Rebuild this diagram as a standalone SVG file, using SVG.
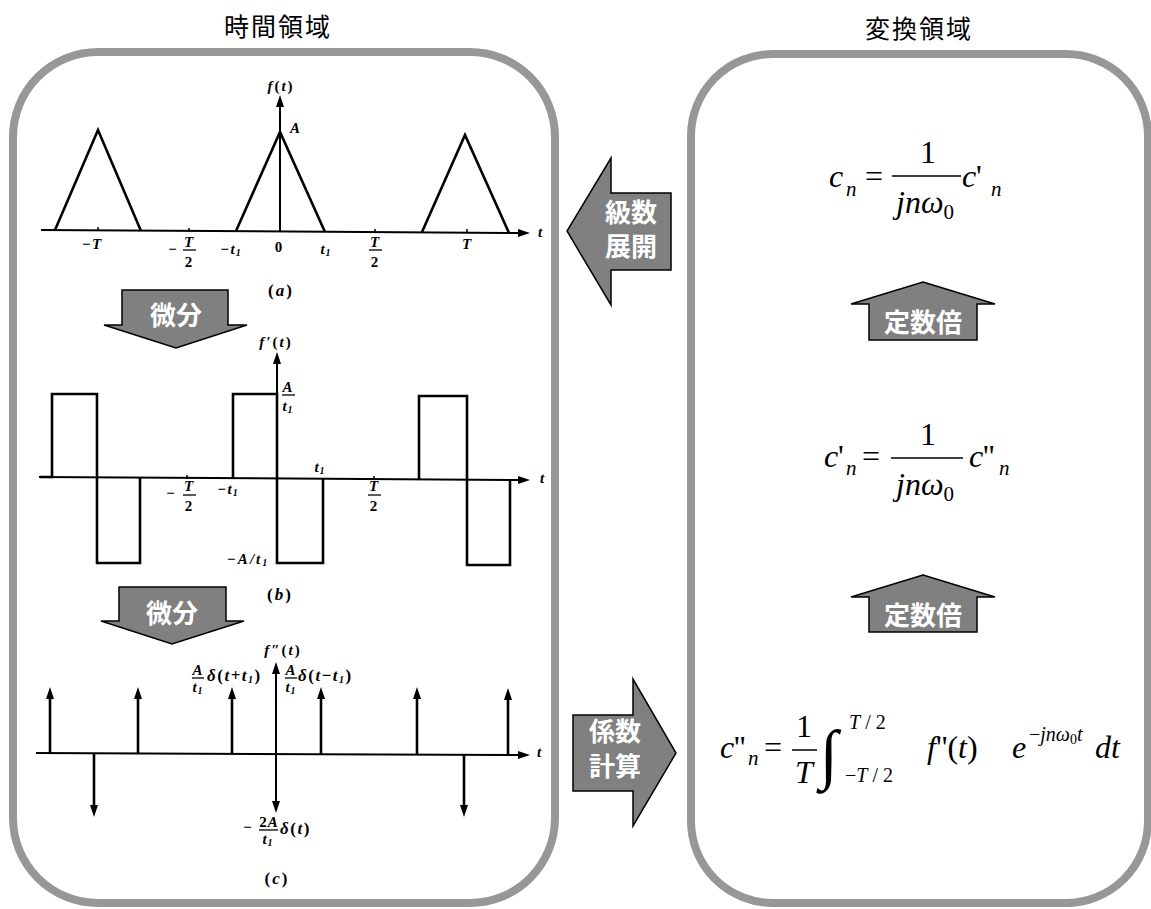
<svg xmlns="http://www.w3.org/2000/svg" width="1151" height="909" viewBox="0 0 1151 909">
<defs>
<style>
.title{font-family:"Noto Sans CJK JP","Noto Sans CJK SC",sans-serif;font-size:25px;fill:#000;text-anchor:middle;letter-spacing:2px}
.box{fill:#fff;stroke:#979797;stroke-width:8}
.blk{fill:#808080;stroke:#000;stroke-width:1.5;stroke-linejoin:miter}
.blab{font-family:"Noto Sans CJK JP","Noto Sans CJK SC",sans-serif;font-weight:bold;font-size:26px;fill:#fff;text-anchor:middle}
.ax{stroke:#000;stroke-width:2;fill:none}
.wv{stroke:#000;stroke-width:2.6;fill:none;stroke-linejoin:miter}
.imp{stroke:#000;stroke-width:2.6;fill:none}
.tk{stroke:#000;stroke-width:1.5}
.fr{stroke:#000;stroke-width:1.3}
.g{font-family:"Liberation Serif",serif;font-weight:bold;font-style:italic;font-size:15px;letter-spacing:1px;fill:#000}
.gu{font-style:normal}
.gs{font-size:10px}
.gd{font-size:17px;letter-spacing:1.5px}
.cap{font-size:17px;letter-spacing:2px;font-style:normal}
.m{font-family:"Liberation Serif","Times New Roman",serif;font-size:32px;fill:#000}
.i{font-style:italic}
.s{font-size:21px}
.lim{font-size:20px}
.ex{font-size:14px}
.big{font-size:66px}
.fl{stroke:#000;stroke-width:1.5}
</style>
<marker id="ah" viewBox="0 0 12 8" refX="2" refY="4" markerWidth="12" markerHeight="8" markerUnits="userSpaceOnUse" orient="auto-start-reverse"><path d="M0,0 L12,4 L0,8 z" fill="#000"/></marker>
</defs>
<rect width="1151" height="909" fill="#fff"/>

<g id="title-time"><text class="title" x="278" y="36">時間領域</text></g>
<g id="title-transform"><text class="title" x="919" y="38">変換領域</text></g>

<g id="box-time"><rect class="box" x="13" y="52" width="542" height="851" rx="85" ry="85"/></g>
<g id="box-transform"><rect class="box" x="691" y="54" width="457" height="849" rx="82" ry="82"/></g>

<g id="graph-a">
<line class="ax" x1="41" y1="230" x2="520" y2="233" marker-end="url(#ah)"/>
<line class="ax" x1="280" y1="232" x2="280" y2="105" marker-end="url(#ah)"/>
<polyline class="wv" points="55,230 98,130 141,231"/>
<polyline class="wv" points="236,231 280,132 325,232"/>
<polyline class="wv" points="422,232 465,135 509,233"/>
<line class="tk" x1="98" y1="227" x2="98" y2="231"/>
<line class="tk" x1="189" y1="228" x2="189" y2="232"/>
<line class="tk" x1="375" y1="229" x2="375" y2="233"/>
<line class="tk" x1="467" y1="229" x2="467" y2="233"/>
<text class="g" x="281" y="91" text-anchor="middle" style="letter-spacing:2px">f<tspan class="gu">(</tspan>t<tspan class="gu">)</tspan></text>
<text class="g" x="290" y="133">A</text>
<text class="g" x="92" y="249" text-anchor="middle">−T</text>
<text class="g" x="173" y="254" text-anchor="middle">−</text>
<text class="g" x="189" y="247" text-anchor="middle">T</text>
<line class="fr" x1="183" y1="250" x2="196" y2="250"/>
<text class="g gu" x="189" y="267" text-anchor="middle">2</text>
<text class="g" x="231" y="254" text-anchor="middle">−t<tspan class="gs" dy="2">1</tspan></text>
<text class="g gu" x="279" y="252" text-anchor="middle">0</text>
<text class="g" x="326" y="254" text-anchor="middle">t<tspan class="gs" dy="2">1</tspan></text>
<text class="g" x="375" y="247" text-anchor="middle">T</text>
<line class="fr" x1="369" y1="250" x2="382" y2="250"/>
<text class="g gu" x="375" y="267" text-anchor="middle">2</text>
<text class="g" x="467" y="249" text-anchor="middle">T</text>
<text class="g" x="538" y="237">t</text>
<text class="g cap" x="281" y="296" text-anchor="middle">(<tspan class="i">a</tspan>)</text>
</g>

<g id="graph-b">
<line class="ax" x1="39" y1="477" x2="520" y2="480" marker-end="url(#ah)"/>
<line class="ax" x1="277" y1="479" x2="277" y2="362" marker-end="url(#ah)"/>
<path class="wv" d="M40,477 H52 V394 H97 V563 H140 V478"/>
<path class="wv" d="M233,478 V394 H277 V563 H323 V479"/>
<path class="wv" d="M419,479 V396 H467 V565 H510 V480"/>
<line class="tk" x1="187" y1="475" x2="187" y2="479"/>
<line class="tk" x1="374" y1="476" x2="374" y2="480"/>
<text class="g" x="276" y="347" text-anchor="middle" style="letter-spacing:2px">f′<tspan class="gu">(</tspan>t<tspan class="gu">)</tspan></text>
<text class="g" x="288" y="392" text-anchor="middle">A</text>
<line class="fr" x1="282" y1="395" x2="295" y2="395"/>
<text class="g" x="288" y="411" text-anchor="middle">t<tspan class="gs" dy="2">1</tspan></text>
<text class="g" x="171" y="498" text-anchor="middle">−</text>
<text class="g" x="189" y="491" text-anchor="middle">T</text>
<line class="fr" x1="183" y1="495" x2="196" y2="495"/>
<text class="g gu" x="189" y="511" text-anchor="middle">2</text>
<text class="g" x="228" y="494" text-anchor="middle">−t<tspan class="gs" dy="2">1</tspan></text>
<text class="g" x="320" y="472" text-anchor="middle">t<tspan class="gs" dy="2">1</tspan></text>
<text class="g" x="374" y="491" text-anchor="middle">T</text>
<line class="fr" x1="368" y1="495" x2="381" y2="495"/>
<text class="g gu" x="374" y="511" text-anchor="middle">2</text>
<text class="g" x="248" y="564" text-anchor="middle" style="letter-spacing:2px">−A/t<tspan class="gs" dy="2">1</tspan></text>
<text class="g" x="540" y="483">t</text>
<text class="g cap" x="280" y="600" text-anchor="middle">(<tspan class="i">b</tspan>)</text>
</g>

<g id="graph-c">
<line class="ax" x1="36" y1="753" x2="520" y2="755" marker-end="url(#ah)"/>
<line class="ax" x1="276" y1="672" x2="276" y2="803" marker-start="url(#ah)" marker-end="url(#ah)"/>
<line class="imp" x1="50" y1="753" x2="50" y2="697" marker-end="url(#ah)"/>
<line class="imp" x1="138" y1="753" x2="138" y2="697" marker-end="url(#ah)"/>
<line class="imp" x1="232" y1="753" x2="232" y2="697" marker-end="url(#ah)"/>
<line class="imp" x1="321" y1="754" x2="321" y2="697" marker-end="url(#ah)"/>
<line class="imp" x1="417" y1="754" x2="417" y2="697" marker-end="url(#ah)"/>
<line class="imp" x1="508" y1="755" x2="508" y2="698" marker-end="url(#ah)"/>
<line class="imp" x1="94" y1="753" x2="94" y2="807" marker-end="url(#ah)"/>
<line class="imp" x1="464" y1="754" x2="464" y2="807" marker-end="url(#ah)"/>
<text class="g" x="283" y="655" text-anchor="middle" style="letter-spacing:2px">f″<tspan class="gu">(</tspan>t<tspan class="gu">)</tspan></text>
<text class="g" x="198" y="675" text-anchor="middle">A</text>
<line class="fr" x1="192" y1="678" x2="204" y2="678"/>
<text class="g" x="198" y="692" text-anchor="middle">t<tspan class="gs" dy="2">1</tspan></text>
<text class="g gd" x="207" y="681">δ<tspan class="gu">(</tspan>t<tspan class="gu">+</tspan>t<tspan class="gs" dy="2">1</tspan><tspan class="gu" dy="-2">)</tspan></text>
<text class="g" x="291" y="675" text-anchor="middle">A</text>
<line class="fr" x1="285" y1="678" x2="297" y2="678"/>
<text class="g" x="291" y="692" text-anchor="middle">t<tspan class="gs" dy="2">1</tspan></text>
<text class="g gd" x="298" y="681">δ<tspan class="gu">(</tspan>t<tspan class="gu">−</tspan>t<tspan class="gs" dy="2">1</tspan><tspan class="gu" dy="-2">)</tspan></text>
<text class="g" x="248" y="832" text-anchor="middle">−</text>
<text class="g" x="269" y="827" text-anchor="middle"><tspan class="gu">2</tspan>A</text>
<line class="fr" x1="259" y1="830" x2="278" y2="830"/>
<text class="g" x="268" y="844" text-anchor="middle">t<tspan class="gs" dy="2">1</tspan></text>
<text class="g gd" x="280" y="834">δ<tspan class="gu">(</tspan>t<tspan class="gu">)</tspan></text>
<text class="g" x="537" y="757">t</text>
<text class="g cap" x="277" y="884" text-anchor="middle">(<tspan class="i">c</tspan>)</text>
</g>

<g id="formula-cn">
<text class="m i" x="829" y="187">c</text>
<text class="m i s" x="846" y="196">n</text>
<text class="m" x="865" y="187">=</text>
<line class="fl" x1="892" y1="176" x2="961" y2="176"/>
<text class="m" x="928" y="163" text-anchor="middle">1</text>
<text class="m i" x="896" y="213">jnω<tspan class="s" font-style="normal" dy="6">0</tspan></text>
<text class="m i" x="962" y="187">c</text>
<text class="m" x="976" y="187">'</text>
<text class="m i s" x="991" y="196">n</text>
</g>

<g id="formula-cn1">
<text class="m i" x="824" y="467">c</text>
<text class="m" x="838" y="467">'</text>
<text class="m i s" x="846" y="475">n</text>
<text class="m" x="862" y="467">=</text>
<line class="fl" x1="891" y1="458" x2="963" y2="458"/>
<text class="m" x="928" y="445" text-anchor="middle">1</text>
<text class="m i" x="896" y="495">jnω<tspan class="s" font-style="normal" dy="6">0</tspan></text>
<text class="m i" x="969" y="467">c</text>
<text class="m" x="983" y="467">''</text>
<text class="m i s" x="999" y="475">n</text>
</g>

<g id="formula-cn2">
<text class="m i" x="720" y="758">c</text>
<text class="m" x="734" y="758">''</text>
<text class="m i s" x="748" y="765">n</text>
<text class="m" x="764" y="758">=</text>
<text class="m" x="804" y="737" text-anchor="middle">1</text>
<line class="fl" x1="792" y1="750" x2="817" y2="750"/>
<text class="m i" x="804" y="783" text-anchor="middle">T</text>
<text class="m big" x="820" y="776">∫</text>
<text class="m lim" x="849" y="729"><tspan class="i">T</tspan> / 2</text>
<text class="m lim" x="845" y="782">−<tspan class="i">T</tspan> / 2</text>
<text class="m" x="927" y="758"><tspan class="i">f</tspan>''(<tspan class="i">t</tspan>)</text>
<text class="m i" x="1012" y="758">e</text>
<text class="m lim" x="1029" y="741">−<tspan class="i">jnω</tspan><tspan class="ex" dy="3">0</tspan><tspan class="i" dy="-3">t</tspan></text>
<text class="m i" x="1095" y="758">dt</text>
</g>

<g id="connectors">
<g id="arrow-diff1"><polygon class="blk" points="122,290 228,290 228,325 247,325 176,348 104,325 122,325"/><text class="blab" x="176" y="325">微分</text></g>
<g id="arrow-diff2"><polygon class="blk" points="119,587 226,587 226,621 244,621 172,644 101,621 119,621"/><text class="blab" x="172" y="623">微分</text></g>
<g id="arrow-series"><polygon class="blk" points="671,193 671,270 611,270 611,305 567,231 611,158 611,193"/><text class="blab" x="631" y="222">級数</text><text class="blab" x="631" y="256">展開</text></g>
<g id="arrow-const1"><polygon class="blk" points="923,282 995,304 977,304 977,340 869,340 869,304 851,304"/><text class="blab" x="923" y="332">定数倍</text></g>
<g id="arrow-const2"><polygon class="blk" points="923,575 995,597 977,597 977,632 869,632 869,597 851,597"/><text class="blab" x="923" y="625">定数倍</text></g>
<g id="arrow-coef"><polygon class="blk" points="573,715 633,715 633,679 676,753 633,826 633,791 573,791"/><text class="blab" x="615" y="741">係数</text><text class="blab" x="615" y="776">計算</text></g>
</g>
</svg>
